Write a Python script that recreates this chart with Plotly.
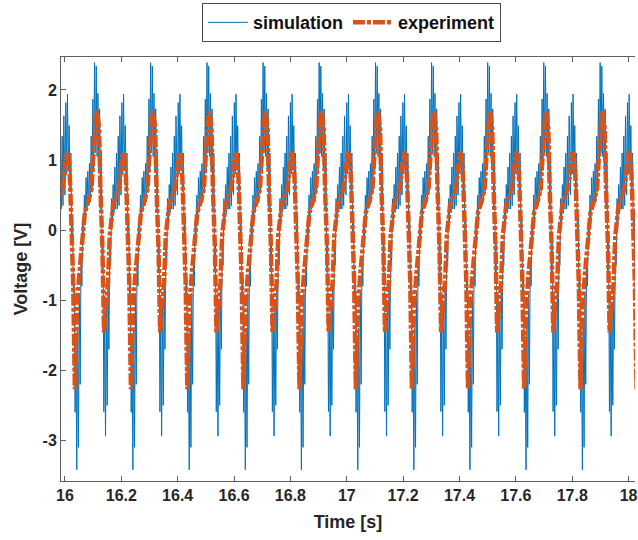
import plotly.graph_objects as go

# ---------------- data ----------------
# start time [s] of each ~0.2 s cycle of the periodic signal
cycle_starts = [15.801, 16.000, 16.199, 16.399, 16.598, 16.797, 16.997,
                17.196, 17.395, 17.594, 17.794, 17.993]

# experiment: one cycle, phase in ms after cycle start, voltage [V]
exp_phase_ms = [0.0, 6.0, 10.6, 15.2, 19.4, 23.6, 29.3, 32.5, 35.3, 38.8,
                43.4, 51.2, 58.9, 64.6, 70.6, 82.2, 94.2, 99.9, 105.9, 111.9,
                116.5, 121.1, 126.0, 133.1, 138.7, 145.8, 152.8, 158.8, 164.8,
                170.5, 181.8, 188.1, 194.1]
exp_volt = [0.86, 1.11, 1.08, 0.97, 0.55, 0.06, -0.75, -1.60, -2.27, -1.70,
            -1.03, -0.62, -0.27, 0.02, 0.25, 0.40, 0.59, 1.01, 1.40, 1.70,
            1.62, 1.44, 0.59, -0.27, -1.46, -1.10, -0.75, -0.08, 0.20,
            0.35, 0.49, 0.55, 0.68]

# simulation: one cycle, phase in ms after cycle start, voltage [V]
sim_phase_ms = [0, 3, 6, 9, 12, 15, 18, 21, 24, 27,
                30, 33, 36, 39, 42, 45, 48, 51, 54, 57,
                60, 63, 66, 69, 72, 75, 78, 81, 84, 87,
                90, 93, 96, 99, 102, 105, 108, 111, 114, 117,
                120, 123, 126, 129, 132, 135, 138, 141, 144, 147,
                150, 153, 156, 159, 162, 165, 168, 171, 174, 177,
                180, 183, 186, 189, 192, 195]
sim_volt = [0.50, 1.82, 0.80, 1.94, 0.85, 1.49, 0.55, 1.10, -0.10, 0.20,
            -0.90, -0.70, -2.60, -1.60, -3.42, -1.40, -3.10, -0.90, -2.20, -0.40,
            -0.80, 0.10, -0.15, 0.50, 0.15, 0.75, 0.30, 0.84, 0.35, 0.95,
            0.40, 1.34, 0.55, 1.87, 0.85, 2.39, 1.10, 2.34, 1.05, 1.95,
            0.85, 1.73, 0.30, 1.10, -0.60, -0.10, -2.59, -1.20, -2.94, -1.10,
            -2.50, -0.80, -1.70, -0.20, -0.50, 0.45, 0.10, 0.65, 0.25, 0.90,
            0.30, 1.10, 0.30, 1.34, 0.35, 1.63]

x_tick_vals = [16, 16.2, 16.4, 16.6, 16.8, 17, 17.2, 17.4, 17.6, 17.8, 18]
x_tick_text = ["16", "16.2", "16.4", "16.6", "16.8", "17", "17.2", "17.4", "17.6", "17.8", "18"]
y_tick_vals = [-3, -2, -1, 0, 1, 2]
y_tick_text = ["-3", "-2", "-1", "0", "1", "2"]

# ---------------- build series ----------------
t_sim, v_sim, t_exp, v_exp = [], [], [], []
for s in cycle_starts:
    t_sim += [s + p / 1000.0 for p in sim_phase_ms]
    v_sim += sim_volt
    t_exp += [s + p / 1000.0 for p in exp_phase_ms]
    v_exp += exp_volt

FONT = "Liberation Sans, Arial, Helvetica, sans-serif"
AX = "#5f5f5f"

fig = go.Figure()
fig.add_trace(go.Scatter(x=t_sim, y=v_sim, mode="lines", name="simulation",
                         line=dict(color="#0072BD", width=1)))
fig.add_trace(go.Scatter(x=t_exp, y=v_exp, mode="lines", name="experiment",
                         line=dict(color="#D95319", width=4.5,
                                   dash="12px,2px,4px,2px")))

fig.update_layout(
    width=638, height=540,
    margin=dict(l=61, r=0, t=57, b=59),
    paper_bgcolor="white", plot_bgcolor="white",
    font=dict(family=FONT, size=16, color="#262626", weight="bold"),
    showlegend=True,
    legend=dict(orientation="h", x=0.506, xanchor="center", y=1.127, yanchor="top",
                bordercolor="#4a4a4a", borderwidth=1, bgcolor="white",
                font=dict(family=FONT, size=18, color="#111111", weight="bold"),
                itemwidth=40, tracegroupgap=0),
)
fig.update_xaxes(range=[15.986, 18.0227], tickmode="array",
                 tickvals=x_tick_vals, ticktext=x_tick_text,
                 ticks="inside", ticklen=5, tickcolor=AX, showline=True,
                 linecolor=AX, linewidth=1, mirror="ticks", showgrid=False,
                 zeroline=False, ticklabeloverflow="allow",
                 title=dict(text="Time [s]", standoff=12,
                            font=dict(family=FONT, size=18, weight="bold")),
                 tickfont=dict(family=FONT, size=16, weight="bold"))
fig.update_yaxes(range=[-3.58, 2.47], tickmode="array",
                 tickvals=y_tick_vals, ticktext=y_tick_text,
                 ticks="inside", ticklen=5, tickcolor=AX, showline=True,
                 linecolor=AX, linewidth=1, mirror=False, showgrid=False,
                 zeroline=False,
                 title=dict(text="Voltage [V]", standoff=10,
                            font=dict(family=FONT, size=18, weight="bold")),
                 tickfont=dict(family=FONT, size=16, weight="bold"))

fig.write_html("out.html")
